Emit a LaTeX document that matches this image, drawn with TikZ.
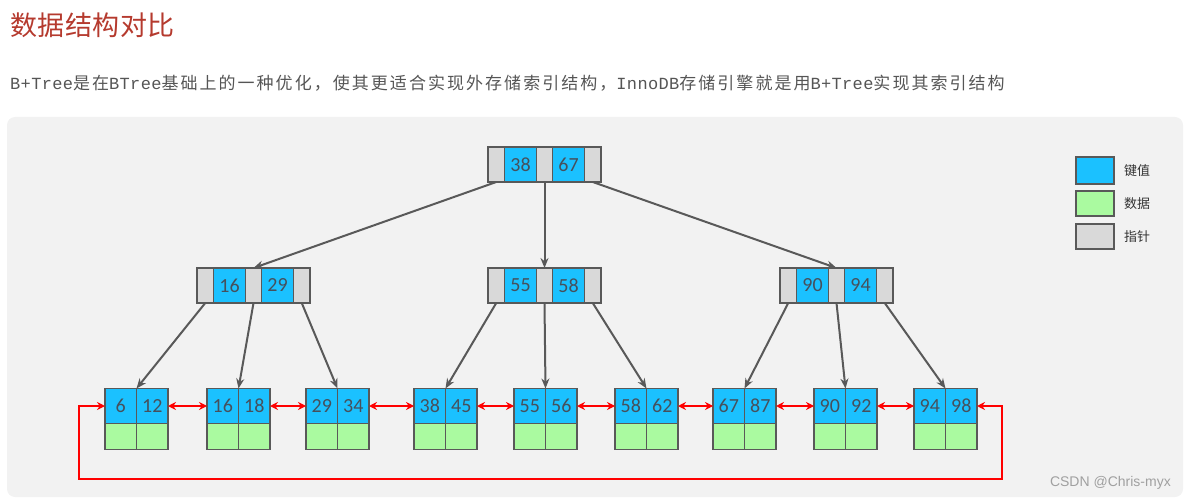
\documentclass[tikz,border=0pt]{standalone}
\usepackage{fontspec}
\usetikzlibrary{arrows.meta,positioning}
\newfontfamily\cjk{Noto Sans CJK SC}
\newfontfamily\cjktitle[LetterSpace=2]{Noto Sans CJK SC}
\newfontfamily\cjksub[LetterSpace=12]{Noto Sans CJK SC}
\newfontfamily\monosub[LetterSpace=2]{Liberation Mono}
\newfontfamily\numfont{Carlito}
\newfontfamily\wmfont{Liberation Sans}
\definecolor{keyblue}{HTML}{1BC1FF}
\definecolor{datagreen}{HTML}{AAFAA0}
\definecolor{ptrgray}{HTML}{D9D9D9}
\definecolor{bordergray}{HTML}{595959}
\definecolor{panelbg}{HTML}{F2F2F2}
\definecolor{numtext}{HTML}{46505C}
\definecolor{titlered}{HTML}{B53A2E}
\definecolor{subgray}{HTML}{555555}
\definecolor{linkred}{HTML}{FF0000}
\definecolor{wmgray}{HTML}{A0A0A0}
\tikzset{
  cell/.style={draw=bordergray, line width=1.3pt, inner sep=0pt, outer sep=0pt,
    font=\numfont\fontsize{20}{20}\selectfont, text=numtext},
  keycell/.style={cell, fill=keyblue, minimum width=32pt, minimum height=35pt},
  ptrcell/.style={cell, fill=ptrgray, minimum height=35pt},
  leafkey/.style={cell, fill=keyblue, minimum width=31.5pt, minimum height=35pt},
  leafdata/.style={cell, fill=datagreen, minimum width=31.5pt, minimum height=26pt},
  treearrow/.style={draw=bordergray, line width=2pt, -{Stealth[length=10pt,width=8pt]}},
  linkarrow/.style={draw=linkred, line width=2.4pt, {Stealth[length=8pt,width=8pt]}-{Stealth[length=8pt,width=8pt]}},
  legendlabel/.style={inner sep=0pt, font=\cjk\fontsize{13}{13}\selectfont, text=black!80},
}
\newcommand\innernode[5]{%
  \node[ptrcell, minimum width=16.5pt, anchor=north west] (#1-p0) at (#2,#3) {};
  \node[keycell, anchor=west] (#1-k1) at (#1-p0.east) {#4};
  \node[ptrcell, minimum width=16pt, anchor=west] (#1-p1) at (#1-k1.east) {};
  \node[keycell, anchor=west] (#1-k2) at (#1-p1.east) {#5};
  \node[ptrcell, minimum width=16.5pt, anchor=west] (#1-p2) at (#1-k2.east) {};
}
\newcommand\leafnode[5]{%
  \node[leafkey, anchor=north west] (#1-k1) at (#2,#3) {#4};
  \node[leafkey, anchor=west] (#1-k2) at (#1-k1.east) {#5};
  \node[leafdata, anchor=north] (#1-d1) at (#1-k1.south) {};
  \node[leafdata, anchor=north] (#1-d2) at (#1-k2.south) {};
}
\begin{document}
\begin{tikzpicture}[x=1pt,y=-1pt]
\useasboundingbox (0,0) rectangle (1186,500);
\fill[panelbg, rounded corners=8pt] (7,117) rectangle (1183,497);

\node[anchor=west, inner sep=0pt, text=titlered] (title) at (10,25)
  {\cjktitle\fontsize{27}{27}\selectfont 数据结构对比};
\node[anchor=west, inner sep=0pt, text=subgray] (sub) at (10,83)
  {\fontsize{17}{17}\selectfont{\monosub B+Tree}{\cjksub 是在}{\monosub BTree}{\cjksub 基础上的一种优化，使其更适合实现外存储索引结构，}{\monosub InnoDB}{\cjksub 存储引擎就是用}{\monosub B+Tree}{\cjksub 实现其索引结构}};

% internal nodes
\innernode{r}{488}{147}{38}{67}
\innernode{l}{197}{268}{16}{29}
\innernode{m}{488}{268}{55}{58}
\innernode{rt}{780}{268}{90}{94}

% leaves
\leafnode{f1}{105}{388.5}{6}{12}
\leafnode{f2}{207}{388.5}{16}{18}
\leafnode{f3}{306}{388.5}{29}{34}
\leafnode{f4}{414}{388.5}{38}{45}
\leafnode{f5}{514}{388.5}{55}{56}
\leafnode{f6}{615}{388.5}{58}{62}
\leafnode{f7}{713}{388.5}{67}{87}
\leafnode{f8}{814}{388.5}{90}{92}
\leafnode{f9}{914}{388.5}{94}{98}

% tree arrows
\draw[treearrow] (r-p0.south) -- (l-p1.north);
\draw[treearrow] (r-p1.south) -- (m-p1.north);
\draw[treearrow] (r-p2.south) -- (rt-p1.north);
\draw[treearrow] (l-p0.south) -- (f1-k1.north east);
\draw[treearrow] (l-p1.south) -- (f2-k1.north east);
\draw[treearrow] (l-p2.south) -- (f3-k1.north east);
\draw[treearrow] (m-p0.south) -- (f4-k1.north east);
\draw[treearrow] (m-p1.south) -- (f5-k1.north east);
\draw[treearrow] (m-p2.south) -- (f6-k1.north east);
\draw[treearrow] (rt-p0.south) -- (f7-k1.north east);
\draw[treearrow] (rt-p1.south) -- (f8-k1.north east);
\draw[treearrow] (rt-p2.south) -- (f9-k1.north east);

% leaf links
\draw[linkarrow] (f1-k2.east) -- (f2-k1.west);
\draw[linkarrow] (f2-k2.east) -- (f3-k1.west);
\draw[linkarrow] (f3-k2.east) -- (f4-k1.west);
\draw[linkarrow] (f4-k2.east) -- (f5-k1.west);
\draw[linkarrow] (f5-k2.east) -- (f6-k1.west);
\draw[linkarrow] (f6-k2.east) -- (f7-k1.west);
\draw[linkarrow] (f7-k2.east) -- (f8-k1.west);
\draw[linkarrow] (f8-k2.east) -- (f9-k1.west);

\coordinate (la) at (79,406);
\coordinate (lb) at (79,479);
\coordinate (lc) at (1002,479);
\coordinate (ld) at (1002,406);
\draw[linkarrow] (f1-k1.west) -- (la) -- (lb) -- (lc) -- (ld) -- (f9-k2.east);

% legend
\node[cell, fill=keyblue, minimum width=38pt, minimum height=27pt, anchor=north west] (lgk) at (1076,157) {};
\node[cell, fill=datagreen, minimum width=38pt, minimum height=25pt, anchor=north west] (lgd) at (1076,191) {};
\node[cell, fill=ptrgray, minimum width=38pt, minimum height=25pt, anchor=north west] (lgp) at (1076,224) {};
\node[legendlabel, right=10pt of lgk] (lgkt) {键值};
\node[legendlabel, right=10pt of lgd] (lgdt) {数据};
\node[legendlabel, right=10pt of lgp] (lgpt) {指针};

% watermark
\node[anchor=east, inner sep=0pt, text=wmgray, font=\wmfont\fontsize{14}{14}\selectfont] (wm) at (1171,483) {CSDN @Chris-myx};
\end{tikzpicture}
\end{document}
